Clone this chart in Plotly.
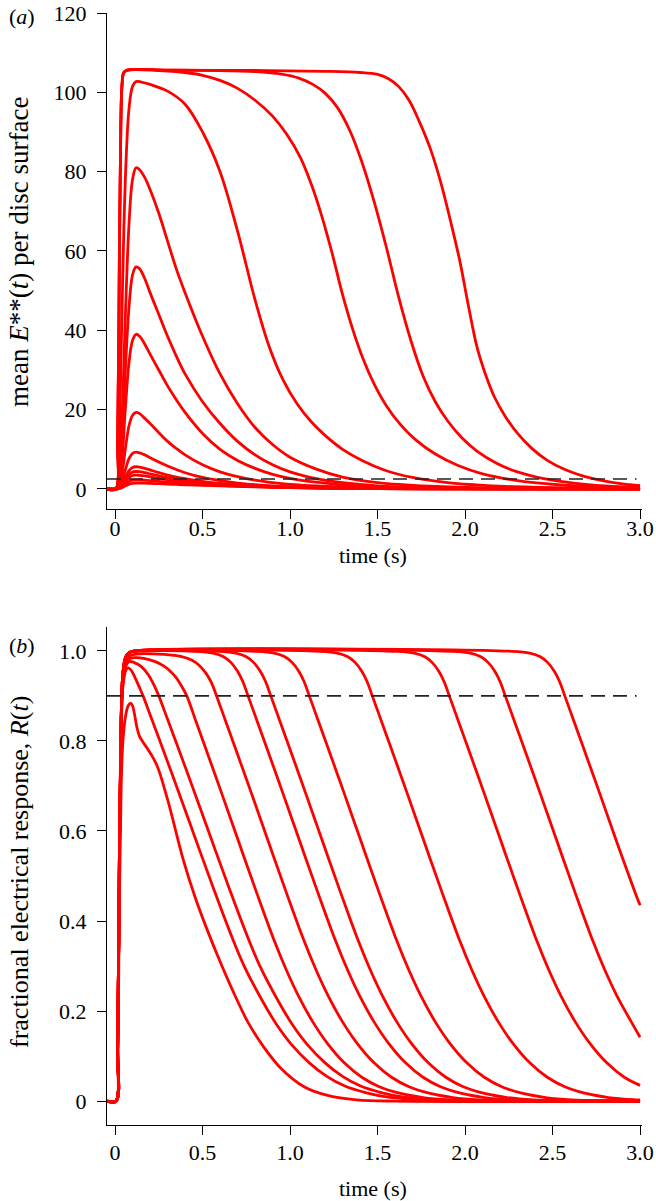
import plotly.graph_objects as go

# ---------------- data: panel (a) mean E**(t) ----------------
a_t1 = [-0.045, 0.005, 0.015, 0.025, 0.033, 0.04, 0.05, 0.07, 0.3, 0.8, 1.2, 1.4, 1.5, 1.56, 1.62, 1.68, 1.74, 1.8, 1.86,
        1.92, 1.97, 2.02, 2.07, 2.12, 2.17, 2.23, 2.3, 2.38, 2.47, 2.57, 2.68, 2.8, 2.9, 3.0]
a_v1 = [0, 0, 12, 60, 92, 102, 105, 105.6, 105.6, 105.5, 105.3, 105, 104.5, 103.5, 101.5, 98, 92.5, 86, 77.5,
        67, 57.5, 46, 35.5, 28.5, 23, 18.3, 14, 10.3, 7.2, 4.9, 3.2, 2.0, 1.3, 0.85]

a_t2 = [-0.045, 0.005, 0.015, 0.025, 0.033, 0.04, 0.05, 0.07, 0.3, 0.6, 0.8, 0.95, 1.05, 1.13, 1.2, 1.27, 1.34, 1.41,
        1.48, 1.55, 1.62, 1.69, 1.76, 1.83, 1.9, 1.98, 2.07, 2.18, 2.3, 2.45, 2.62, 2.8, 3.0]
a_v2 = [0, 0, 12, 60, 92, 102, 105, 105.6, 105.6, 105.5, 105.2, 104.6, 103.6, 102, 99.8, 96.2, 90.5, 82.5,
        72.5, 61, 48.5, 37.5, 28.5, 22, 17.2, 13, 9.5, 6.5, 4.3, 2.6, 1.5, 0.8, 0.4]

a_t3 = [-0.045, 0.005, 0.015, 0.025, 0.033, 0.04, 0.05, 0.07, 0.25, 0.4, 0.5, 0.6, 0.7, 0.8, 0.9, 0.98, 1.06, 1.12,
        1.18, 1.24, 1.3, 1.36, 1.42, 1.48, 1.55, 1.63, 1.72, 1.83, 1.96, 2.1, 2.3, 2.55, 2.8, 3.0]
a_v3 = [0, 0, 12, 60, 92, 102, 105, 105.6, 105.5, 105, 104.3, 103, 101, 98, 94, 89.5, 83.5, 77,
        69, 59.5, 49, 40, 32.5, 26.5, 21, 16.3, 12.3, 8.8, 5.9, 3.8, 2.1, 1.0, 0.5, 0.3]

a_t4 = [-0.045, 0.005, 0.02, 0.035, 0.05, 0.065, 0.08, 0.1, 0.12, 0.15, 0.2, 0.3, 0.4, 0.5, 0.6, 0.7, 0.8, 0.88,
        0.96, 1.04, 1.12, 1.2, 1.3, 1.42, 1.55, 1.7, 1.9, 2.2, 2.6, 3.0]
a_v4 = [0, 0, 8, 35, 65, 85, 96, 101.5, 102.7, 102.6, 102, 100.3, 97, 90, 80, 65, 47.7, 36,
        27.5, 21.5, 17, 13.5, 10, 7, 4.6, 2.9, 1.6, 0.7, 0.25, 0.1]

ta_peak = [-0.045, 0.005, 0.02, 0.04, 0.06, 0.08, 0.1, 0.12, 0.14, 0.17, 0.2, 0.25, 0.3, 0.35, 0.4, 0.5, 0.6, 0.7,
           0.8, 0.9, 1.0, 1.15, 1.3, 1.5, 1.8, 2.2, 3.0]
a_v5 = [0, 0, 3, 18, 45, 67, 78, 81, 80.5, 78.5, 75.5, 69.5, 62.5, 55.5, 49.5, 38.5, 29, 21.5,
        15.5, 11.2, 8, 5, 3, 1.6, 0.7, 0.25, 0.05]
a_v6 = [0, 0, 2, 12, 31, 46, 54, 56, 55.5, 53, 49.5, 44, 38.5, 33.5, 29, 22, 16.5, 12,
        8.6, 6.1, 4.3, 2.6, 1.6, 0.8, 0.35, 0.12, 0.02]
a_v7 = [0, 0, 1.5, 8, 21, 32, 37.5, 39, 38.5, 36.5, 34, 30, 26, 22.5, 19.3, 14, 10, 7.2,
        5.2, 3.7, 2.7, 1.7, 1.0, 0.55, 0.25, 0.1, 0.02]
a_v8 = [0, 0, 0.8, 4, 10.5, 16, 18.6, 19.3, 19, 17.8, 16.5, 14.2, 12, 10.2, 8.6, 6.1, 4.3, 3.1,
        2.2, 1.6, 1.15, 0.75, 0.5, 0.3, 0.15, 0.06, 0.01]
a_v9 = [0, 0, 0.4, 2, 5, 7.7, 9, 9.3, 9.1, 8.6, 7.9, 6.8, 5.8, 4.9, 4.1, 2.9, 2.1, 1.5,
        1.1, 0.8, 0.6, 0.4, 0.27, 0.16, 0.08, 0.03, 0]
a_v10 = [0, 0, 0.25, 1.2, 3, 4.6, 5.4, 5.6, 5.5, 5.2, 4.8, 4.1, 3.5, 3.0, 2.6, 1.9, 1.4, 1.0,
         0.75, 0.55, 0.42, 0.28, 0.19, 0.12, 0.06, 0.02, 0]
a_v11 = [0, 0, 0.2, 1, 2.4, 3.6, 4.25, 4.4, 4.35, 4.1, 3.8, 3.3, 2.85, 2.45, 2.1, 1.55, 1.15, 0.85,
         0.65, 0.5, 0.38, 0.26, 0.18, 0.11, 0.05, 0.02, 0]
a_v12 = [0, 0, 0.15, 0.8, 1.9, 2.9, 3.4, 3.5, 3.45, 3.3, 3.05, 2.7, 2.35, 2.05, 1.8, 1.35, 1.0, 0.78,
         0.6, 0.46, 0.36, 0.25, 0.17, 0.1, 0.05, 0.02, 0]
a_v13 = [0, 0, 0.1, 0.5, 1.25, 1.9, 2.22, 2.3, 2.28, 2.2, 2.1, 1.9, 1.72, 1.55, 1.4, 1.12, 0.9, 0.72,
         0.58, 0.46, 0.37, 0.27, 0.19, 0.12, 0.06, 0.02, 0]
a_v14 = [0, 0, 0.07, 0.35, 0.8, 1.2, 1.42, 1.5, 1.5, 1.47, 1.42, 1.33, 1.24, 1.15, 1.07, 0.92, 0.78, 0.66,
         0.56, 0.47, 0.39, 0.3, 0.22, 0.14, 0.07, 0.03, 0]

a_threshold = 2.5

# ---------------- data: panel (b) R(t) ----------------
b_t1 = [-0.045, 0.005, 0.015, 0.025, 0.035, 0.045, 0.06, 0.075, 0.09, 0.1, 0.11, 0.125, 0.14, 0.16, 0.19, 0.24,
        0.3, 0.39, 0.46, 0.52, 0.6, 0.68, 0.76, 0.85, 0.95, 1.08, 1.22, 1.38, 1.6, 3.0]
b_r1 = [0, 0, 0.1, 0.45, 0.7, 0.8, 0.855, 0.878, 0.884, 0.878, 0.862, 0.83, 0.81, 0.797, 0.78, 0.745,
        0.67, 0.536, 0.45, 0.387, 0.31, 0.239, 0.175, 0.12, 0.072, 0.032, 0.012, 0.003, 0, 0]

b_t2 = [-0.045, 0.005, 0.015, 0.025, 0.035, 0.045, 0.06, 0.075, 0.095, 0.115, 0.14, 0.16, 0.21, 0.26, 0.36, 0.46,
        0.56, 0.66, 0.74, 0.84, 0.92, 1.01, 1.11, 1.21, 1.31, 1.43, 1.56, 1.71, 1.91, 3.0]
b_r2 = [0, 0, 0.12, 0.54, 0.82, 0.92, 0.955, 0.962, 0.955, 0.94, 0.918, 0.9, 0.848, 0.796, 0.69, 0.582,
        0.475, 0.372, 0.298, 0.224, 0.172, 0.125, 0.085, 0.055, 0.034, 0.019, 0.009, 0.004, 0.001, 0]

b_t3 = [-0.045, 0.005, 0.015, 0.025, 0.035, 0.045, 0.06, 0.08, 0.11, 0.15, 0.19, 0.22, 0.25, 0.3, 0.35, 0.45,
        0.55, 0.65, 0.75, 0.83, 0.93, 1.01, 1.1, 1.2, 1.3, 1.4, 1.52, 1.65, 1.8, 2.0, 3.0]
b_r3 = [0, 0, 0.12, 0.55, 0.83, 0.93, 0.965, 0.976, 0.974, 0.965, 0.947, 0.926, 0.9, 0.848, 0.796, 0.69,
        0.582, 0.475, 0.372, 0.298, 0.224, 0.172, 0.125, 0.085, 0.055, 0.034, 0.019, 0.009, 0.004, 0.001, 0]

b_t4 = [-0.045, 0.005, 0.015, 0.025, 0.035, 0.045, 0.06, 0.08, 0.11, 0.17, 0.23, 0.28, 0.32, 0.35, 0.38, 0.41,
        0.46, 0.51, 0.61, 0.71, 0.81, 0.91, 0.98, 1.05, 1.13, 1.21, 1.31, 1.41, 1.51, 1.63, 1.76, 1.91, 2.11, 3.0]
b_r4 = [0, 0, 0.12, 0.55, 0.84, 0.935, 0.97, 0.982, 0.985, 0.983, 0.976, 0.966, 0.953, 0.94, 0.922, 0.9,
        0.846, 0.792, 0.683, 0.572, 0.462, 0.356, 0.29, 0.232, 0.176, 0.13, 0.085, 0.053, 0.032, 0.017, 0.008, 0.003, 0.001, 0]

b_t5 = [-0.045, 0.005, 0.015, 0.025, 0.035, 0.045, 0.06, 0.08, 0.12, 0.28, 0.38, 0.44, 0.48, 0.52, 0.55, 0.58,
        0.63, 0.68, 0.78, 0.88, 0.98, 1.08, 1.15, 1.22, 1.3, 1.38, 1.48, 1.58, 1.68, 1.8, 1.93, 2.08, 2.28, 3.0]
b_r5 = [0, 0, 0.12, 0.55, 0.84, 0.94, 0.975, 0.988, 0.993, 0.992, 0.987, 0.979, 0.968, 0.95, 0.93, 0.9,
        0.846, 0.792, 0.683, 0.572, 0.462, 0.356, 0.29, 0.232, 0.176, 0.13, 0.085, 0.053, 0.032, 0.017, 0.008, 0.003, 0.001, 0]

b_t6 = [-0.045, 0.005, 0.015, 0.025, 0.035, 0.045, 0.06, 0.08, 0.12, 0.46, 0.56, 0.62, 0.66, 0.70, 0.73, 0.76,
        0.81, 0.86, 0.96, 1.06, 1.16, 1.26, 1.33, 1.40, 1.48, 1.56, 1.66, 1.76, 1.86, 1.98, 2.11, 2.26, 2.46, 3.0]
b_r6 = [0, 0, 0.12, 0.55, 0.85, 0.95, 0.985, 0.996, 0.999, 0.999, 0.995, 0.987, 0.975, 0.955, 0.932, 0.9,
        0.846, 0.792, 0.683, 0.572, 0.462, 0.356, 0.29, 0.232, 0.176, 0.13, 0.085, 0.053, 0.032, 0.017, 0.008, 0.003, 0.001, 0]

b_t7 = [-0.045, 0.005, 0.015, 0.025, 0.035, 0.045, 0.06, 0.08, 0.12, 0.59, 0.69, 0.75, 0.79, 0.83, 0.86, 0.89,
        0.94, 0.99, 1.09, 1.19, 1.29, 1.39, 1.46, 1.53, 1.61, 1.69, 1.79, 1.89, 1.99, 2.11, 2.24, 2.39, 2.59, 3.0]
b_r7 = [0, 0, 0.12, 0.55, 0.85, 0.95, 0.985, 0.996, 1.0, 0.999, 0.995, 0.987, 0.975, 0.955, 0.932, 0.9,
        0.846, 0.792, 0.683, 0.572, 0.462, 0.356, 0.29, 0.232, 0.176, 0.13, 0.085, 0.053, 0.032, 0.017, 0.008, 0.003, 0.001, 0]

b_t8 = [-0.045, 0.005, 0.015, 0.025, 0.035, 0.045, 0.06, 0.08, 0.12, 0.81, 0.91, 0.97, 1.01, 1.05, 1.08, 1.11,
        1.16, 1.21, 1.31, 1.41, 1.51, 1.61, 1.68, 1.75, 1.83, 1.91, 2.01, 2.11, 2.21, 2.33, 2.46, 2.61, 2.81, 3.0]
b_r8 = [0, 0, 0.12, 0.55, 0.85, 0.95, 0.985, 0.996, 1.0, 0.999, 0.995, 0.987, 0.975, 0.955, 0.932, 0.9,
        0.846, 0.792, 0.683, 0.572, 0.462, 0.356, 0.29, 0.232, 0.176, 0.13, 0.085, 0.053, 0.032, 0.017, 0.008, 0.003, 0.001, 0]

b_t9 = [-0.045, 0.005, 0.015, 0.025, 0.035, 0.045, 0.06, 0.08, 0.12, 1.17, 1.27, 1.33, 1.37, 1.41, 1.44, 1.47,
        1.52, 1.57, 1.67, 1.77, 1.87, 1.97, 2.04, 2.11, 2.19, 2.27, 2.37, 2.47, 2.57, 2.69, 2.82, 2.97, 3.0]
b_r9 = [0, 0, 0.12, 0.55, 0.85, 0.95, 0.985, 0.996, 1.0, 0.999, 0.995, 0.987, 0.975, 0.955, 0.932, 0.9,
        0.846, 0.792, 0.683, 0.572, 0.462, 0.356, 0.29, 0.232, 0.176, 0.13, 0.085, 0.053, 0.032, 0.017, 0.008, 0.003, 0.0025]

b_t10 = [-0.045, 0.005, 0.015, 0.025, 0.035, 0.045, 0.06, 0.08, 0.12, 1.61, 1.71, 1.77, 1.81, 1.85, 1.88, 1.91,
         1.96, 2.01, 2.11, 2.21, 2.31, 2.41, 2.48, 2.55, 2.63, 2.71, 2.81, 2.91, 3.0]
b_r10 = [0, 0, 0.12, 0.55, 0.85, 0.95, 0.985, 0.996, 1.0, 0.999, 0.995, 0.987, 0.975, 0.955, 0.932, 0.9,
         0.846, 0.792, 0.683, 0.572, 0.462, 0.356, 0.29, 0.232, 0.176, 0.13, 0.085, 0.053, 0.035]

b_t11 = [-0.045, 0.005, 0.015, 0.025, 0.035, 0.045, 0.06, 0.08, 0.12, 1.93, 2.03, 2.09, 2.13, 2.17, 2.20, 2.23,
         2.28, 2.33, 2.43, 2.53, 2.63, 2.73, 2.80, 2.87, 2.95, 3.0]
b_r11 = [0, 0, 0.12, 0.55, 0.85, 0.95, 0.985, 0.996, 1.0, 0.999, 0.995, 0.987, 0.975, 0.955, 0.932, 0.9,
         0.846, 0.792, 0.683, 0.572, 0.462, 0.356, 0.29, 0.232, 0.176, 0.142]

b_t12 = [-0.045, 0.005, 0.015, 0.025, 0.035, 0.045, 0.06, 0.08, 0.12, 2.27, 2.37, 2.43, 2.47, 2.51, 2.54, 2.57,
         2.62, 2.67, 2.77, 2.87, 2.97, 3.0]
b_r12 = [0, 0, 0.12, 0.55, 0.85, 0.95, 0.985, 0.996, 1.0, 0.999, 0.995, 0.987, 0.975, 0.955, 0.932, 0.9,
         0.846, 0.792, 0.683, 0.572, 0.465, 0.435]

b_threshold = 0.9

x_tickvals = [0, 0.5, 1.0, 1.5, 2.0, 2.5, 3.0]
x_ticktext = ["0", "0.5", "1.0", "1.5", "2.0", "2.5", "3.0"]
ya_tickvals = [0, 20, 40, 60, 80, 100, 120]
ya_ticktext = ["0", "20", "40", "60", "80", "100", "120"]
yb_tickvals = [0, 0.2, 0.4, 0.6, 0.8, 1.0]
yb_ticktext = ["0", "0.2", "0.4", "0.6", "0.8", "1.0"]

# ---------------- figure ----------------
W, H = 656, 1201
RED = "#ff0000"
LW = 2.8
FONT = "Liberation Serif"

fig = go.Figure()

a_series = [(a_t1, a_v1), (a_t2, a_v2), (a_t3, a_v3), (a_t4, a_v4),
            (ta_peak, a_v5), (ta_peak, a_v6), (ta_peak, a_v7), (ta_peak, a_v8),
            (ta_peak, a_v9), (ta_peak, a_v10), (ta_peak, a_v11), (ta_peak, a_v12),
            (ta_peak, a_v13), (ta_peak, a_v14)]
b_series = [(b_t1, b_r1), (b_t2, b_r2), (b_t3, b_r3), (b_t4, b_r4), (b_t5, b_r5),
            (b_t6, b_r6), (b_t7, b_r7), (b_t8, b_r8), (b_t9, b_r9), (b_t10, b_r10),
            (b_t11, b_r11), (b_t12, b_r12)]

line_style = dict(color=RED, width=LW, shape="spline", smoothing=1.0)
dash_style = dict(color="#222222", width=1.6, dash="14px,8px")

for tx, vy in a_series:
    fig.add_trace(go.Scatter(x=tx, y=vy, mode="lines", line=line_style,
                             xaxis="x", yaxis="y", showlegend=False, hoverinfo="skip"))
fig.add_trace(go.Scatter(x=[-0.046, 2.98], y=[a_threshold, a_threshold], mode="lines",
                         line=dash_style, xaxis="x", yaxis="y", showlegend=False, hoverinfo="skip"))

for tx, ry in b_series:
    fig.add_trace(go.Scatter(x=tx, y=ry, mode="lines", line=line_style,
                             xaxis="x2", yaxis="y2", showlegend=False, hoverinfo="skip"))
fig.add_trace(go.Scatter(x=[-0.046, 2.98], y=[b_threshold, b_threshold], mode="lines",
                         line=dash_style, xaxis="x2", yaxis="y2", showlegend=False, hoverinfo="skip"))


def px_x(p):
    return p / W


def px_y(p):
    return (H - p) / H


xdom = [px_x(107), px_x(641.8)]
tickfont = dict(family=FONT, size=22, color="black")
axis_common = dict(showline=True, linecolor="black", linewidth=1.3, ticks="outside",
                   ticklen=9, tickwidth=1.3, tickcolor="black", showgrid=False,
                   zeroline=False, tickfont=tickfont, mirror=False, automargin=False)

fig.update_layout(
    width=W, height=H, margin=dict(l=0, r=0, t=0, b=0, pad=0), autosize=False,
    font=dict(family=FONT, size=22, color="black"),
    paper_bgcolor="white", plot_bgcolor="white",
    xaxis=dict(domain=xdom, range=[-0.046, 3.01], anchor="y",
               tickmode="array", tickvals=x_tickvals, ticktext=x_ticktext,
               ticklabelstandoff=-10, **axis_common),
    yaxis=dict(domain=[px_y(509), px_y(13)], range=[-5.05, 120], anchor="x",
               tickmode="array", tickvals=ya_tickvals, ticktext=ya_ticktext,
               ticklabelstandoff=6, **axis_common),
    xaxis2=dict(domain=xdom, range=[-0.046, 3.01], anchor="y2",
                tickmode="array", tickvals=x_tickvals, ticktext=x_ticktext,
                ticklabelstandoff=-2, **axis_common),
    yaxis2=dict(domain=[px_y(1125), px_y(627)], range=[-0.053, 1.053], anchor="x2",
                tickmode="array", tickvals=yb_tickvals, ticktext=yb_ticktext,
                ticklabelstandoff=6, **axis_common),
)

ann = [
    dict(text="(<i>a</i>)", x=px_x(22), y=px_y(16), size=22),
    dict(text="(<i>b</i>)", x=px_x(22), y=px_y(645), size=22),
    dict(text="time (s)", x=px_x(373), y=px_y(555), size=22),
    dict(text="time (s)", x=px_x(373), y=px_y(1188), size=22),
    dict(text="mean <i>E</i>**(<i>t</i>) per disc surface", x=px_x(19), y=px_y(252), size=27, textangle=-90),
    dict(text="fractional electrical response, <i>R</i>(<i>t</i>)", x=px_x(20), y=px_y(872), size=26, textangle=-90),
]
for a in ann:
    size = a.pop("size")
    fig.add_annotation(xref="paper", yref="paper", showarrow=False,
                       xanchor="center", yanchor="middle",
                       font=dict(family=FONT, size=size, color="black"), **a)

fig.write_html("out.html", config={"displayModeBar": False},
               post_script="document.body.style.margin='0px';")
